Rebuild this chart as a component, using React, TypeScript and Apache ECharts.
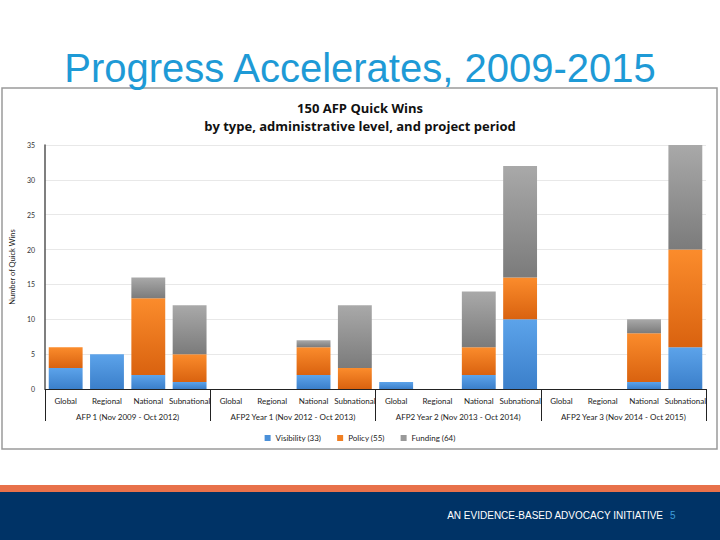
import React, { useEffect, useRef } from "react";
import * as echarts from "echarts";

const levels = ["Global", "Regional", "National", "Subnational"];
const periods = [
  "AFP 1 (Nov 2009 - Oct 2012)",
  "AFP2 Year 1 (Nov 2012 - Oct 2013)",
  "AFP2 Year 2 (Nov 2013 - Oct 2014)",
  "AFP2 Year 3 (Nov 2014 - Oct 2015)",
];
const categories = periods.flatMap(() => levels);

const visibility = [3, 5, 2, 1, 0, 0, 2, 0, 1, 0, 2, 10, 0, 0, 1, 6];
const policy = [3, 0, 11, 4, 0, 0, 4, 3, 0, 0, 4, 6, 0, 0, 7, 14];
const funding = [0, 0, 3, 7, 0, 0, 1, 9, 0, 0, 8, 16, 0, 0, 2, 15];

const seriesNames = ["Visibility (33)", "Policy (55)", "Funding (64)"];
const yTicks = { min: 0, max: 35, interval: 5 };

const grad = (top: string, bottom: string) =>
  new echarts.graphic.LinearGradient(0, 0, 0, 1, [
    { offset: 0, color: top },
    { offset: 1, color: bottom },
  ]);

export default function App() {
  const ref = useRef<HTMLDivElement>(null);
  useEffect(() => {
    if (!ref.current) return;
    const chart = echarts.init(ref.current, null, { renderer: "svg" });
    const font = "Lato, 'Open Sans', sans-serif";
    const mk = (name: string, data: number[], top: string, bottom: string) => ({
      name,
      type: "bar",
      stack: "all",
      data,
      barCategoryGap: "18%",
      itemStyle: { color: grad(top, bottom) },
    });
    chart.setOption({
      animation: false,
      backgroundColor: "#ffffff",
      textStyle: { fontFamily: font },
      graphic: [
        {
          type: "rect",
          z: -10,
          shape: { x: 0, y: 485, width: 720, height: 7 },
          style: { fill: "#e8714a" },
        },
        {
          type: "rect",
          z: -10,
          shape: { x: 0, y: 492, width: 720, height: 48 },
          style: { fill: "#003366" },
        },
        {
          type: "text",
          x: 663,
          y: 515,
          style: {
            text: "AN EVIDENCE-BASED ADVOCACY INITIATIVE",
            fill: "#ffffff",
            font: "10px 'Liberation Sans', Arial, sans-serif",
            align: "right",
            verticalAlign: "middle",
          },
        },
        {
          type: "text",
          x: 670,
          y: 515,
          style: {
            text: "5",
            fill: "#3d9ddc",
            font: "10px 'Liberation Sans', Arial, sans-serif",
            align: "left",
            verticalAlign: "middle",
          },
        },
        {
          type: "text",
          x: 360,
          y: 68,
          style: {
            text: "Progress Accelerates, 2009-2015",
            fill: "#1e9ad6",
            font: "40px 'Liberation Sans', Arial, sans-serif",
            align: "center",
            verticalAlign: "middle",
          },
        },
        {
          type: "rect",
          z: -5,
          shape: { x: 2, y: 88, width: 715, height: 361 },
          style: { fill: "#ffffff", stroke: "#9a9a9a", lineWidth: 1.5 },
        },
        {
          type: "text",
          x: 360,
          y: 108,
          style: {
            text: "150 AFP Quick Wins",
            fill: "#111111",
            font: "bold 13px 'Open Sans', Lato, sans-serif",
            align: "center",
            verticalAlign: "middle",
          },
        },
        {
          type: "text",
          x: 360,
          y: 126,
          style: {
            text: "by type, administrative level, and project period",
            fill: "#111111",
            font: "bold 13px 'Open Sans', Lato, sans-serif",
            align: "center",
            verticalAlign: "middle",
          },
        },
      ],
      grid: { left: 42, right: 14, top: 145, bottom: 151 },
      legend: {
        top: 429,
        left: "center",
        icon: "rect",
        itemWidth: 6,
        itemHeight: 6,
        itemGap: 16,
        textStyle: { fontSize: 8, color: "#222", fontFamily: font },
        data: [
          { name: seriesNames[0], itemStyle: { color: "#4a90d9" } },
          { name: seriesNames[1], itemStyle: { color: "#f07f22" } },
          { name: seriesNames[2], itemStyle: { color: "#999999" } },
        ],
      },
      xAxis: [
        {
          type: "category",
          data: categories,
          axisLine: { lineStyle: { color: "#222", width: 1 } },
          axisTick: { show: false },
          axisLabel: {
            interval: 0,
            fontSize: 8,
            color: "#222",
            margin: 8,
            fontFamily: font,
          },
        },
        {
          type: "category",
          data: periods,
          position: "bottom",
          axisLine: { show: false },
          axisTick: { show: true, length: 32, lineStyle: { color: "#222" } },
          axisLabel: {
            interval: 0,
            fontSize: 8,
            color: "#222",
            margin: 24,
            fontFamily: font,
          },
        },
      ],
      yAxis: {
        type: "value",
        ...yTicks,
        name: "Number of Quick Wins",
        nameLocation: "middle",
        nameGap: 22,
        nameTextStyle: { fontSize: 7.5, color: "#222", fontFamily: font },
        axisLine: { show: true, lineStyle: { color: "#555", width: 1.5 } },
        axisTick: { show: false },
        splitLine: { lineStyle: { color: "#e8e8e8" } },
        axisLabel: { fontSize: 7, color: "#333", margin: 10, fontFamily: font },
      },
      series: [
        mk(seriesNames[0], visibility, "#5ca3ea", "#3b7fca"),
        mk(seriesNames[1], policy, "#fb8c2c", "#d9620f"),
        mk(seriesNames[2], funding, "#a9a9a9", "#7b7b7b"),
      ],
    });
    return () => chart.dispose();
  }, []);
  return (
    <div
      ref={ref}
      style={{ position: "absolute", left: 0, top: 0, width: 720, height: 540 }}
    />
  );
}
